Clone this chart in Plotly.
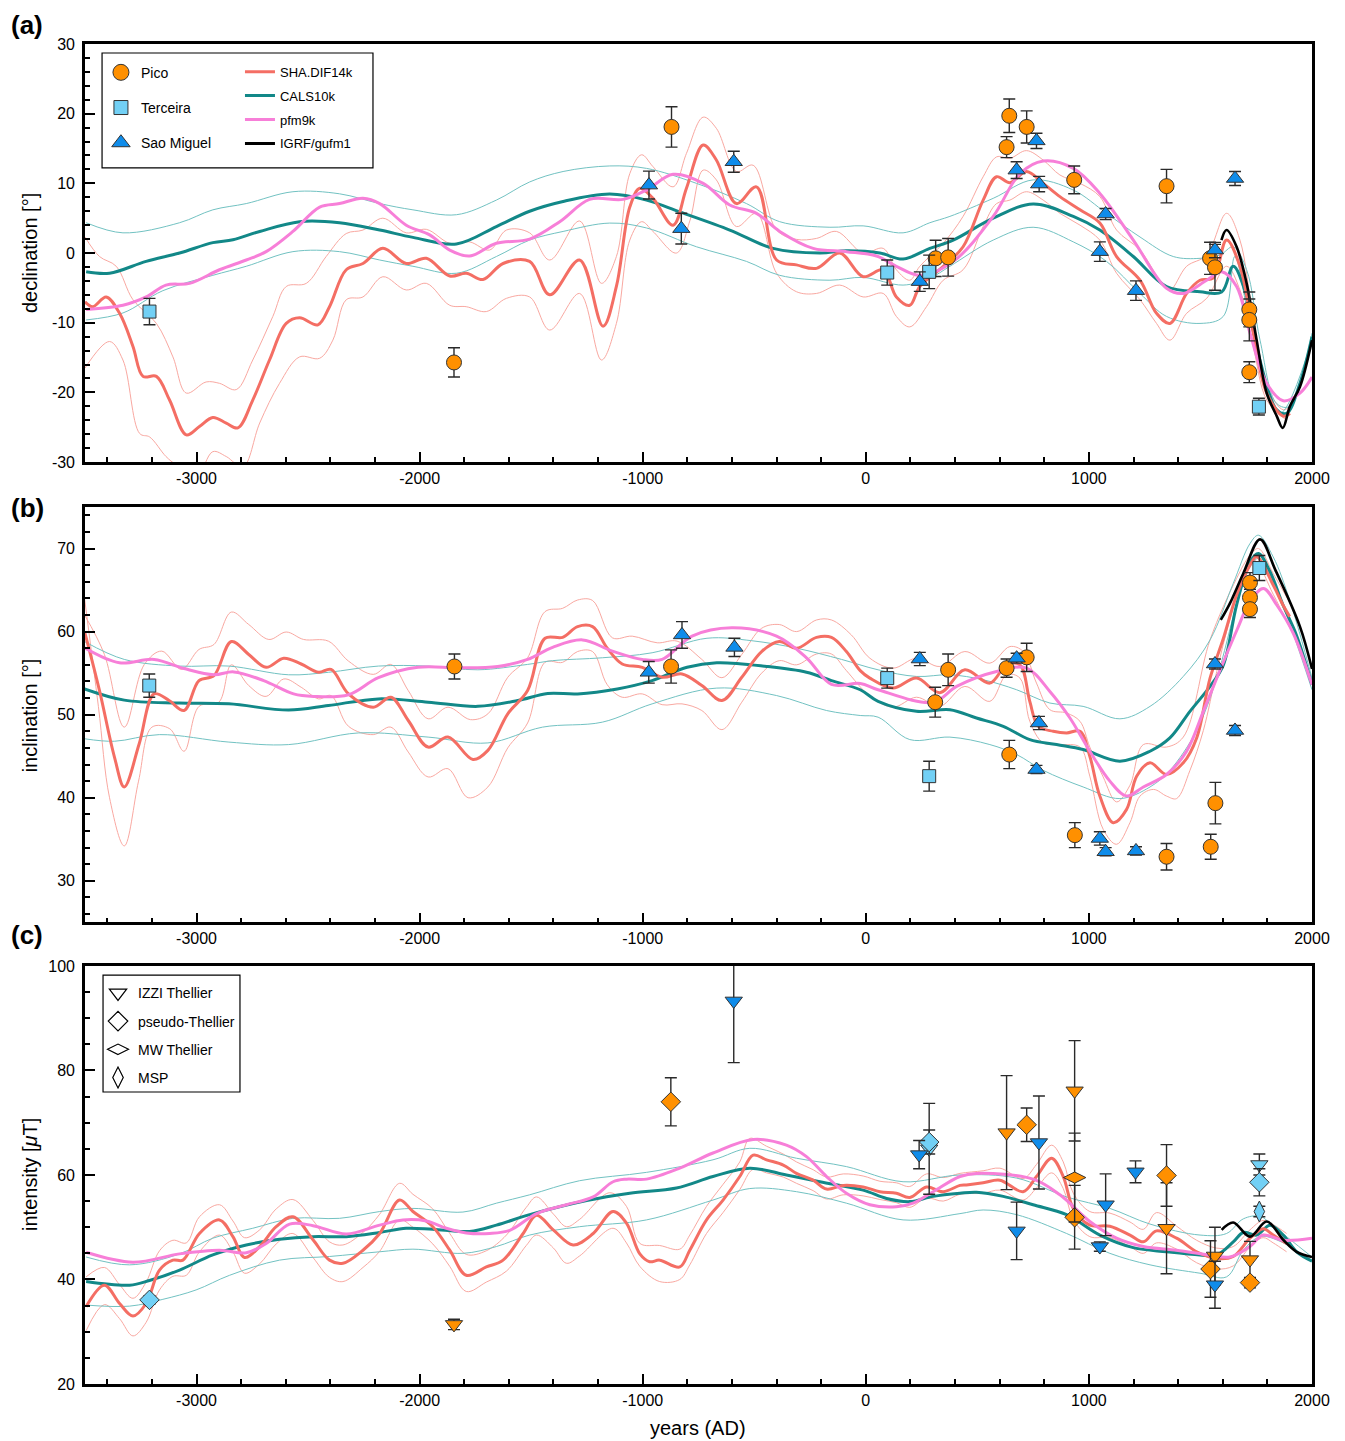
import plotly.graph_objects as go

# colours
ORANGE = '#FF9000'
LIGHTBLUE = '#72D0F5'
BLUE = '#0F8CEA'
SHA_COL = '#F46E64'
SHA_BND = '#F9A8A1'
CALS_COL = '#128888'
CALS_BND = '#72C2C2'
PFM_COL = '#F77FD8'

# ---------------- (a) declination ----------------
a_sha_x = [-3500, -3465, -3405, -3345, -3285, -3240, -3180, -3121, -3046, -2987, -2927, -2867, -2815, -2748,
           -2673, -2598, -2538, -2456, -2404, -2329, -2254, -2165, -2060, -1970, -1865, -1791, -1716, -1626,
           -1507, -1417, -1283, -1178, -1118, -1058, -1013, -954, -864, -804, -729, -670, -580, -490, -400,
           -311, -221, -117, -12, 78, 137, 197, 242, 347, 436, 526, 586, 646, 720, 795, 870, 960, 1049, 1124,
           1229, 1303, 1363, 1438, 1498, 1557, 1617, 1677, 1737, 1797, 1871, 1901]
a_sha_y = [-7.0, -7.7, -6.3, -8.65, -13.4, -17.7, -17.7, -21.1, -26.1, -24.9, -23.6, -24.4, -25.1, -21.1,
           -15.35, -10.1, -9.3, -10.3, -7.7, -2.4, -1.5, 0.67, -1.5, -0.76, -3.3, -2.9, -3.8, -1.5,
           -1.2, -6.0, -1.0, -10.5, -4.8, 6.6, 9.3, 7.85, 4.0, 9.3, 15.5, 13.35, 7.1, 9.5, -1.0,
           -1.7, -2.2, 0.0, -3.4, -2.4, -6.3, -7.5, -4.8, -1.9, 0.9, 7.6, 10.95, 10.1, 11.7, 10.0, 8.1, 6.2, 4.3, -0.5,
           -3.9, -8.65, -10.1, -5.8, -3.9, -3.6, 1.86, -1.9, -11.5, -20.1, -23.4, -23.0]
a_sha_hi_x = [-3500, -3435, -3360, -3285, -3180, -3106, -3046, -2957, -2897, -2822, -2748, -2658, -2598, -2508,
              -2419, -2329, -2254, -2165, -2060, -1970, -1865, -1776, -1686, -1611, -1507, -1417, -1283, -1185,
              -1118, -1058, -1005, -954, -864, -804, -729, -670, -580, -505, -400, -311, -221, -131, -12, 78,
              137, 197, 242, 347, 436, 526, 586, 646, 720, 795, 870, 960, 1049, 1124, 1229, 1318, 1363, 1438,
              1528, 1617, 1677, 1737, 1797, 1871, 1901]
a_sha_hi_y = [2.3, -0.5, -1.9, -6.7, -10.1, -14.9, -20.1, -18.5, -18.7, -19.6, -15.35, -9.1, -4.8, -4.35,
              -0.5, 2.8, 3.3, 5.0, 2.9, 3.4, 1.4, 1.6, 0.43, 3.3, 2.9, -1.0, 4.6, -4.35,
              -0.5, 11.4, 14.1, 12.4, 9.5, 14.3, 19.5, 17.9, 11.7, 12.6, 3.3, 1.96, 2.1, 3.1, 0.0, 0.67,
              -2.4, -3.9, -1.9, 1.4, 5.26, 10.95, 13.8, 13.6, 14.7, 13.35, 11.2, 10.0, 8.1, 3.3, 0.43, -3.9, -5.3, -1.9,
              -0.3, 5.7, 1.86, -9.6, -19.2, -22.5, -22.0]
a_sha_lo_x = [-3500, -3390, -3330, -3255, -3210, -3137, -3091, -3000, -2927, -2867, -2792, -2717, -2628, -2538,
              -2448, -2389, -2329, -2254, -2165, -2060, -1970, -1865, -1791, -1701, -1611, -1507, -1417, -1283,
              -1185, -1118, -1058, -1005, -954, -849, -789, -729, -670, -580, -490, -400, -311, -221, -117, -12,
              78, 137, 197, 272, 347, 436, 526, 586, 646, 720, 795, 870, 960, 1049, 1124, 1229, 1303, 1363, 1438,
              1528, 1617, 1677, 1737, 1797, 1886]
a_sha_lo_y = [-16.5, -12.7, -15.35, -25.9, -26.4, -29.2, -30.4, -32.0, -28.5, -29.2, -30.7, -24.4, -18.7, -14.9,
              -15.1, -12.5, -6.7, -6.3, -3.4, -5.3, -4.35, -7.5, -7.7, -8.4, -6.5, -6.3, -11.05, -5.8,
              -15.35, -10.1, 1.86, 4.5, 3.1, 0.0, 4.6, 11.9, 10.5, 3.8, 5.7, -2.9, -5.55, -5.8, -4.6, -6.3,
              -5.8, -9.1, -10.6, -7.7, -3.9, -2.4, 3.8, 7.1, 7.6, 8.8, 7.6, 5.7, 4.0, 1.86, -2.9, -6.7, -10.1, -12.5, -8.65,
              -6.5, -1.9, -5.3, -13.4, -21.1, -24.0]
a_cals_x = [-3495, -3390, -3226, -3076, -2927, -2837, -2717, -2538, -2359, -2179, -2030, -1835, -1656, -1507,
            -1357, -1148, -983, -834, -610, -416, -206, -87, 63, 167, 287, 392, 571, 750, 930, 1049, 1199, 1348,
            1498, 1595, 1647, 1707, 1767, 1842, 1886, 1946, 2000]
a_cals_y = [-2.7, -2.9, -1.2, 0.0, 1.5, 1.9, 3.1, 4.5, 4.35, 3.3, 2.25, 1.3, 3.8, 6.0,
            7.4, 8.46, 7.6, 5.9, 3.3, 0.67, 0.0, 0.33, 0.0, -0.86, 0.67, 1.86, 5.0, 7.03, 5.26, 3.3, -0.5, -4.8,
            -5.55, -5.6, -1.9, -6.2, -15.4, -22.5, -23.0, -18.7, -12.0]
a_cals_hi_x = [-3495, -3330, -3076, -2927, -2777, -2568, -2359, -2179, -2030, -1835, -1656, -1507, -1357, -1148,
               -983, -759, -535, -386, -161, -12, 167, 287, 377, 571, 750, 930, 1079, 1229, 1378, 1498, 1587,
               1647, 1707, 1767, 1842, 1901, 2000]
a_cals_hi_y = [4.35, 2.9, 4.35, 6.2, 7.1, 8.8, 8.5, 7.1, 6.2, 5.5, 7.6, 10.2, 11.7, 12.5,
               12.15, 10.0, 7.1, 4.5, 3.7, 3.9, 2.9, 4.35, 5.26, 7.85, 10.5, 9.04, 5.7, 2.3, -0.5, -0.76, -0.3,
               0.9, -2.4, -12.5, -21.6, -22.0, -11.5]
a_cals_lo_x = [-3495, -3330, -3151, -2927, -2777, -2568, -2359, -2179, -2030, -1835, -1656, -1507, -1357, -1148,
               -983, -759, -535, -386, -161, -12, 167, 287, 377, 571, 750, 930, 1079, 1229, 1348, 1498, 1602,
               1654, 1707, 1782, 1857, 2000]
a_cals_lo_y = [-9.6, -8.6, -5.4, -3.2, -1.9, 0.2, 0.2, -1.0, -1.9, -2.9, -0.5, 1.86, 3.1, 4.3,
               3.6, 0.9, -1.2, -3.2, -3.9, -3.5, -4.6, -3.6, -1.9, 1.86, 3.7, 1.6, -1.2, -5.8, -9.1, -10.1, -9.1,
               -0.5, -7.7, -17.3, -23.0, -12.5]
a_pfm_x = [-3495, -3330, -3226, -3137, -3031, -2897, -2777, -2688, -2568, -2448, -2359, -2254, -2179, -2060,
           -1955, -1865, -1776, -1656, -1507, -1372, -1238, -1088, -983, -864, -729, -610, -490, -386, -236,
           -87, 48, 137, 242, 392, 571, 691, 795, 930, 1049, 1199, 1348, 1423, 1528, 1595, 1662, 1722, 1797,
           1871, 1946, 2000]
a_pfm_y = [-8.1, -7.5, -6.3, -4.6, -4.35, -2.4, -1.0, 0.2, 3.1, 6.6, 7.1, 7.85, 7.1, 4.0,
           2.6, 0.43, -0.43, 1.4, 2.0, 4.5, 7.7, 7.7, 9.04, 11.3, 10.0, 6.9, 5.7, 3.1, 0.67,
           0.2, -0.43, -1.9, -3.2, -1.2, 5.26, 11.4, 13.2, 12.15, 8.56, 1.86, -5.06, -5.8, -3.9, -2.7, -4.8, -11.5, -18.7,
           -21.2, -20.1, -17.8]
a_igrf_x = [1594, 1617, 1662, 1707, 1752, 1797, 1842, 1869, 1901, 1946, 2000]
a_igrf_y = [1.86, 3.3, 0.9, -4.35, -12.5, -20.1, -23.4, -25.1, -22.0, -19.2, -12.5]

a_pico_x = [-1846, -871, 631, 643, 721, 934, 1348, 313, 369, 1543, 1565, 1719, 1719, 1719]
a_pico_y = [-15.7, 18.1, 15.2, 19.7, 18.1, 10.5, 9.6, -0.76, -0.62, -0.76, -2.05, -8.1, -9.6, -17.1]
a_pico_e = [2.1, 2.9, 1.5, 2.4, 2.3, 2.0, 2.4, 2.6, 2.7, 2.3, 3.3, 2.5, 3.0, 1.5]
a_terc_x = [-3211, 96, 284, 1762]
a_terc_y = [-8.4, -2.8, -2.7, -22.05]
a_terc_e = [1.9, 1.8, 2.4, 1.2]
a_sao_x = [-972, -827, -592, 242, 676, 765, 777, 1075, 1049, 1211, 1565, 1655]
a_sao_y = [9.75, 3.5, 13.1, -4.1, 11.9, 16.1, 9.9, 5.6, 0.2, -5.4, 0.43, 10.7]
a_sao_e = [2.0, 2.2, 1.5, 1.4, 1.2, 1.1, 1.1, 0.8, 1.4, 1.4, 1.1, 1.0]

# ---------------- (b) inclination ----------------
b_sha_x = [-3502, -3435, -3368, -3324, -3257, -3190, -3123, -3056, -2989, -2922, -2844, -2766, -2688, -2609,
           -2531, -2453, -2397, -2319, -2208, -2129, -2051, -1962, -1873, -1761, -1694, -1605, -1516, -1438,
           -1359, -1292, -1225, -1159, -1092, -1002, -913, -824, -735, -645, -556, -467, -388, -310, -221,
           -154, -87, -25, 18, 122, 227, 332, 444, 556, 631, 691, 735, 773, 840, 900, 960, 1004, 1049, 1109,
           1169, 1214, 1274, 1348, 1423, 1483, 1543, 1603, 1662, 1722, 1752, 1826, 1870, 1900]
b_sha_y = [60.0, 52.9, 44.9, 41.3, 46.5, 52.5, 51.7, 50.5, 54.1, 54.7, 58.8, 57.25, 55.7, 56.8,
           56.1, 55.1, 55.45, 52.5, 50.9, 52.1, 49.3, 46.1, 47.3, 44.6, 45.7, 50.1, 52.9, 59.2,
           59.3, 60.6, 60.6, 58.0, 56.1, 55.7, 54.5, 54.9, 53.5, 51.7, 54.5, 57.6, 58.8, 58.0, 59.3,
           59.3, 57.6, 55.3, 54.4, 53.2, 54.4, 52.65, 55.4, 53.8, 56.0, 56.0, 51.6, 48.6, 48.0, 47.8, 48.0, 45.0, 40.2, 37.0,
           38.6, 42.6, 44.2, 42.8, 44.2, 47.2, 54.4, 59.2, 64.4, 68.0, 69.0, 65.6, 63.2, 61.8]
b_sha_hi_x = [-3502, -3413, -3324, -3234, -3156, -3067, -2989, -2922, -2844, -2766, -2676, -2598, -2520, -2409,
              -2319, -2208, -2129, -2051, -1962, -1873, -1772, -1694, -1605, -1516, -1438, -1359, -1292, -1225,
              -1136, -1047, -935, -846, -735, -645, -556, -467, -388, -310, -221, -154, -65, 18, 122, 227, 332,
              444, 556, 646, 706, 765, 825, 900, 960, 1004, 1064, 1124, 1184, 1244, 1348, 1423, 1543, 1662, 1722,
              1760, 1826, 1900]
b_sha_hi_y = [62.0, 57.25, 48.5, 56.05, 57.65, 55.45, 57.85, 58.45, 62.35, 60.85, 59.05, 59.95, 59.05, 58.85,
              56.45, 54.85, 56.05, 52.9, 49.5, 50.9, 49.4, 50.1, 54.5, 56.85, 62.4, 62.8, 63.8, 63.75,
              59.25, 59.45, 58.65, 58.85, 56.65, 54.45, 57.25, 60.4, 60.85, 60.0, 61.4, 61.4, 59.6, 56.8, 55.6, 56.8, 55.8,
              57.6, 56.2, 58.2, 57.6, 53.8, 50.6, 50.2, 49.2, 46.1, 42.5, 39.5, 41.5, 46.4, 46.1, 47.3, 59.0, 66.4, 69.2,
              70.0, 67.0, 63.5]
b_sha_lo_x = [-3502, -3440, -3390, -3324, -3260, -3200, -3120, -3056, -2989, -2900, -2844, -2766, -2688, -2609,
              -2531, -2453, -2397, -2319, -2208, -2129, -2051, -1962, -1873, -1783, -1694, -1605, -1516, -1438,
              -1359, -1292, -1225, -1159, -1092, -1002, -913, -824, -735, -645, -556, -467, -388, -310, -221,
              -154, -87, 18, 122, 227, 332, 444, 556, 631, 691, 735, 795, 870, 960, 1004, 1064, 1124, 1184, 1229,
              1290, 1348, 1393, 1453, 1513, 1573, 1633, 1692, 1740, 1826, 1900]
b_sha_lo_y = [64.0, 51.0, 40.0, 34.2, 42.0, 48.5, 48.3, 45.6, 51.0, 51.5, 56.0, 53.5, 52.2, 54.3,
              53.3, 51.9, 52.3, 48.6, 47.6, 48.5, 45.5, 42.5, 43.5, 40.0, 41.3, 46.0, 49.0, 56.3,
              56.3, 57.6, 57.6, 53.6, 52.1, 52.5, 51.2, 51.3, 50.5, 48.2, 51.5, 55.0, 56.5, 56.0, 57.3,
              57.3, 55.3, 52.25, 50.9, 52.1, 51.0, 53.4, 51.6, 54.8, 54.4, 49.2, 46.6, 46.4, 46.1, 42.6, 36.2, 34.4, 37.0, 40.2,
              41.0, 40.2, 39.9, 43.3, 48.1, 55.2, 61.6, 66.4, 68.6, 64.5, 60.5]
b_cals_x = [-3502, -3324, -3078, -2855, -2587, -2409, -2185, -1962, -1739, -1560, -1426, -1292, -1114, -958,
            -801, -668, -444, -266, -154, -25, 55, 227, 377, 496, 616, 735, 855, 974, 1139, 1274, 1363, 1453,
            1543, 1603, 1662, 1722, 1760, 1812, 1870, 1930, 2000]
b_cals_y = [53.1, 51.75, 51.4, 51.3, 50.55, 51.1, 51.9, 51.5, 51.0, 51.7, 52.55, 52.5, 53.1, 54.1,
            55.7, 56.25, 55.8, 55.1, 54.1, 53.0, 51.6, 50.4, 50.6, 49.6, 48.6, 47.0, 46.4, 45.8, 44.4, 45.6, 47.2, 50.4,
            53.4, 56.0, 63.2, 68.4, 69.4, 67.2, 63.2, 59.6, 53.6]
b_cals_hi_x = [-3502, -3324, -3078, -2855, -2587, -2409, -2185, -1962, -1739, -1516, -1404, -1181, -958, -712,
               -511, -310, -109, 55, 227, 377, 526, 676, 825, 974, 1139, 1274, 1423, 1543, 1647, 1722, 1760,
               1826, 1901, 2000]
b_cals_hi_y = [58.8, 56.65, 55.85, 55.85, 54.8, 55.1, 55.85, 55.85, 55.4, 56.05, 56.5, 56.85, 57.45, 59.2,
               58.9, 58.0, 56.65, 55.4, 54.6, 54.8, 54.2, 53.0, 51.4, 51.0, 49.5, 51.0, 54.6, 59.0, 65.8, 70.6, 71.6,
               69.0, 63.7, 54.4]
b_cals_lo_x = [-3502, -3368, -3167, -2855, -2587, -2275, -1962, -1694, -1449, -1181, -958, -668, -400, -176,
               -25, 55, 197, 377, 556, 676, 795, 974, 1139, 1274, 1363, 1483, 1573, 1662, 1722, 1760, 1826, 2000]
b_cals_lo_y = [47.1, 46.8, 47.6, 46.7, 46.4, 47.8, 47.3, 46.6, 48.5, 49.1, 51.3, 53.2, 52.3, 50.5,
               49.9, 49.7, 47.0, 47.3, 46.4, 45.2, 43.3, 41.3, 39.9, 41.3, 43.3, 48.1, 54.4, 63.2, 67.8, 68.8, 66.0, 53.0]
b_pfm_x = [-3502, -3346, -3190, -3056, -2922, -2833, -2699, -2565, -2475, -2319, -2185, -2007, -1828, -1650,
           -1516, -1404, -1270, -1136, -1002, -913, -779, -601, -400, -266, -154, -25, 55, 302, 407, 586, 721,
           825, 915, 1004, 1094, 1169, 1244, 1348, 1438, 1513, 1573, 1662, 1722, 1782, 1842, 1916, 2000]
b_pfm_y = [58.05, 56.25, 56.65, 55.55, 54.8, 55.15, 54.1, 52.5, 52.2, 52.4, 54.45, 55.7, 55.65, 55.8,
           56.65, 58.1, 59.0, 57.65, 56.65, 56.65, 59.45, 60.45, 59.45, 56.85, 53.65, 53.75, 53.0, 51.5, 53.4, 55.2, 55.6,
           52.8, 49.6, 45.6, 42.0, 40.2, 41.3, 42.8, 45.6, 50.4, 54.4, 60.1, 63.6, 65.2, 63.2, 59.8, 53.6]
b_igrf_x = [1591, 1632, 1692, 1767, 1836, 1946, 2000]
b_igrf_y = [61.4, 63.4, 67.0, 71.1, 67.4, 60.6, 55.5]

b_pico_x = [-1844, -873, 369, 311, 631, 721, 643, 937, 1348, 1546, 1567, 1722, 1722, 1722]
b_pico_y = [55.8, 55.8, 55.4, 51.5, 55.6, 56.9, 45.2, 35.5, 32.9, 34.1, 39.35, 65.9, 64.1, 62.7]
b_pico_e = [1.5, 2.0, 1.9, 1.8, 1.1, 1.7, 1.7, 1.5, 1.6, 1.5, 2.5, 1.2, 1.0, 1.0]
b_terc_x = [-3212, 96, 284, 1764]
b_terc_y = [53.5, 54.4, 42.6, 67.65]
b_terc_e = [1.4, 1.2, 1.8, 1.5]
b_sao_x = [-973, -824, -589, 242, 676, 776, 765, 1049, 1075, 1211, 1565, 1655]
b_sao_y = [55.1, 59.6, 58.1, 56.7, 56.8, 49.0, 43.4, 35.1, 33.5, 33.6, 56.1, 48.1]
b_sao_e = [1.3, 1.6, 1.1, 0.8, 0.6, 0.8, 0.5, 0.8, 0.5, 0.5, 0.6, 0.6]

# ---------------- (c) intensity ----------------
c_sha_x = [-3495, -3413, -3345, -3285, -3226, -3166, -3106, -3061, -2987, -2897, -2837, -2785, -2717, -2643,
           -2568, -2478, -2404, -2344, -2254, -2179, -2090, -2030, -1941, -1865, -1791, -1701, -1626, -1536,
           -1476, -1401, -1312, -1222, -1133, -1073, -1013, -969, -924, -834, -789, -714, -640, -565, -505,
           -445, -370, -311, -236, -176, -101, -12, 63, 137, 197, 272, 347, 422, 451, 526, 601, 705, 765, 833,
           885, 930, 1004, 1094, 1184, 1244, 1303, 1393, 1483, 1573, 1647, 1722, 1781, 1826, 1886]
c_sha_y = [34.8, 38.9, 35.4, 33.0, 35.4, 41.8, 43.7, 43.7, 48.8, 51.4, 48.2, 44.2, 46.3, 50.1,
           52.0, 47.6, 43.7, 43.1, 45.6, 48.8, 55.2, 53.0, 50.1, 45.6, 40.8, 42.4, 43.7, 48.8,
           52.3, 49.5, 46.6, 48.8, 53.0, 50.8, 44.9, 43.4, 43.7, 42.4, 45.6, 51.4, 55.2, 59.7, 63.8,
           62.9, 61.9, 60.3, 59.0, 57.3, 58.0, 57.7, 56.8, 56.5, 55.7, 57.7, 56.8, 58.0, 58.1, 58.5, 59.0, 56.8, 59.7, 63.2,
           59.7, 53.6, 50.4, 50.2, 48.5, 47.2, 49.3, 47.9, 45.3, 44.0, 44.4, 47.9, 49.7, 48.5, 46.9]
c_sha_hi_x = [-3495, -3413, -3345, -3285, -3226, -3166, -3106, -3046, -2987, -2897, -2837, -2785, -2717, -2643,
              -2568, -2478, -2404, -2344, -2254, -2179, -2090, -2030, -1941, -1865, -1791, -1701, -1611, -1522,
              -1476, -1400, -1342, -1283, -1148, -1073, -1013, -924, -834, -789, -714, -640, -565, -520, -445,
              -370, -311, -236, -176, -101, -12, 63, 137, 197, 272, 347, 422, 526, 601, 705, 765, 833, 885, 930,
              1004, 1094, 1184, 1244, 1303, 1393, 1483, 1573, 1647, 1722, 1781, 1826, 1886]
c_sha_hi_y = [40.5, 42.3, 39.0, 36.4, 39.5, 45.5, 47.5, 47.0, 52.0, 54.3, 51.2, 48.0, 49.5, 53.5,
              55.3, 51.3, 47.2, 46.6, 49.0, 52.5, 58.4, 56.3, 53.5, 48.8, 44.8, 45.5, 48.5, 53.8,
              55.8, 52.5, 50.1, 51.5, 56.6, 54.0, 46.9, 46.5, 45.8, 48.5, 54.0, 58.2, 62.5, 67.0, 65.5,
              64.0, 62.5, 61.0, 59.6, 60.2, 59.8, 58.8, 58.5, 57.8, 60.2, 59.5, 60.3, 60.8, 61.3, 59.3, 62.0, 65.7, 62.5, 56.5,
              53.0, 52.7, 51.0, 49.6, 52.8, 50.2, 47.5, 46.0, 46.3, 49.5, 51.3, 50.5, 48.8]
c_sha_lo_x = [-3495, -3413, -3345, -3285, -3226, -3166, -3106, -3046, -2987, -2897, -2837, -2785, -2717, -2643,
              -2568, -2478, -2404, -2344, -2254, -2179, -2090, -2030, -1941, -1865, -1791, -1701, -1611, -1522,
              -1476, -1400, -1342, -1283, -1133, -1073, -1013, -924, -834, -789, -714, -640, -565, -505, -445,
              -370, -311, -236, -176, -101, -12, 63, 137, 197, 272, 347, 422, 526, 601, 705, 765, 833, 885, 930,
              1004, 1094, 1184, 1244, 1303, 1393, 1483, 1573, 1647, 1722, 1781, 1826, 1886]
c_sha_lo_y = [30.2, 35.2, 32.5, 29.2, 31.8, 38.0, 40.6, 40.8, 45.3, 48.5, 45.3, 41.2, 43.0, 46.8,
              48.8, 44.2, 40.4, 39.6, 42.3, 45.4, 51.4, 50.0, 46.8, 42.5, 37.7, 39.5, 41.6, 46.5,
              48.5, 46.0, 43.1, 44.5, 49.8, 47.0, 42.5, 39.6, 40.0, 42.8, 48.8, 52.8, 57.2, 61.1, 60.4,
              59.6, 58.4, 57.0, 55.4, 56.2, 56.0, 55.3, 54.7, 53.8, 55.6, 55.0, 56.3, 56.5, 57.1, 55.2, 57.5, 60.4, 57.4, 51.5,
              48.2, 48.0, 46.3, 45.0, 47.0, 45.8, 43.2, 42.0, 42.6, 46.2, 48.0, 47.0, 45.3]
c_cals_x = [-3495, -3300, -3211, -3076, -2927, -2777, -2628, -2478, -2329, -2179, -2060, -1941, -1776, -1656,
            -1507, -1251, -1058, -849, -685, -520, -356, -206, -12, 93, 197, 302, 422, 496, 616, 750, 900, 1049,
            1199, 1348, 1498, 1573, 1647, 1692, 1752, 1812, 1871, 1931, 2000]
c_cals_y = [39.6, 38.9, 39.8, 41.8, 44.7, 46.6, 47.7, 48.2, 48.2, 49.0, 49.8, 49.6, 49.2, 50.4,
            52.4, 55.1, 56.5, 57.5, 59.7, 61.3, 60.0, 58.7, 57.1, 55.5, 54.9, 55.9, 56.5, 56.7, 55.9, 54.3, 52.4, 48.5,
            46.1, 45.3, 44.7, 44.7, 47.2, 49.0, 48.5, 50.4, 48.5, 45.3, 43.5]
c_cals_hi_x = [-3495, -3300, -3076, -2927, -2748, -2568, -2359, -2179, -2030, -1806, -1656, -1507, -1283, -983,
               -685, -520, -311, -87, 167, 422, 676, 900, 1094, 1274, 1498, 1617, 1692, 1767, 1826, 2000]
c_cals_hi_y = [44.3, 42.8, 44.9, 47.9, 49.8, 51.7, 51.7, 53.0, 53.6, 52.9, 54.6, 56.2, 58.9, 60.5,
               62.9, 65.1, 63.2, 61.6, 58.7, 60.0, 59.4, 55.8, 53.6, 50.6, 48.5, 48.8, 51.6, 52.1, 50.2, 44.3]
c_cals_lo_x = [-3495, -3300, -3151, -3002, -2852, -2628, -2404, -2179, -2030, -1806, -1656, -1507, -1283, -983,
               -685, -520, -311, -87, 167, 422, 526, 676, 900, 1094, 1274, 1498, 1617, 1692, 1767, 1841, 2000]
c_cals_lo_y = [35.1, 34.9, 36.2, 38.0, 40.8, 43.7, 44.4, 45.3, 45.8, 45.0, 46.3, 48.5, 50.1, 51.4,
               55.2, 57.4, 56.8, 54.6, 51.4, 52.6, 53.3, 52.4, 48.8, 45.0, 42.8, 41.2, 40.5, 45.6, 48.2, 47.6, 43.7]
c_pfm_x = [-3495, -3285, -3076, -2897, -2777, -2688, -2583, -2478, -2329, -2179, -2075, -1970, -1880, -1791,
           -1686, -1596, -1476, -1342, -1222, -1133, -1073, -983, -834, -685, -505, -356, -266, -176, -87, 18,
           137, 212, 302, 422, 496, 750, 870, 1004, 1124, 1244, 1393, 1543, 1632, 1722, 1781, 1871, 2000]
c_pfm_y = [45.2, 43.3, 44.9, 45.6, 45.1, 46.9, 50.6, 50.3, 48.7, 50.4, 51.4, 51.2, 49.8, 48.9,
           48.8, 49.4, 52.6, 54.3, 55.8, 58.7, 59.2, 59.2, 61.3, 64.2, 66.8, 65.7, 63.5, 59.7, 56.5, 54.3,
           53.9, 54.6, 56.8, 59.7, 60.3, 59.2, 56.2, 51.1, 47.9, 46.3, 45.6, 44.7, 44.3, 46.3, 48.5, 47.5, 47.9]
c_igrf_x = [1595, 1647, 1722, 1797, 1871, 1931, 2000]
c_igrf_y = [49.5, 50.9, 48.2, 51.1, 47.6, 45.3, 44.3]

# Pico
c_pico_izzi_x = [-1846, 631, 936, 1348, 1565, 1722]
c_pico_izzi_y = [31.4, 68.1, 76.1, 49.8, 44.5, 43.8]
c_pico_izzi_e = [1.0, 10.9, 9.6, 8.7, 5.5, 3.5]
c_pico_pt_x = [-874, 721, 936, 1348, 1545, 1722]
c_pico_pt_y = [74.0, 69.6, 51.9, 59.9, 42.0, 39.4]
c_pico_pt_e = [4.6, 3.2, 6.1, 5.9, 5.4, 1.0]
c_pico_mw_x = [936]
c_pico_mw_y = [59.5]
c_pico_mw_e = [8.5]
# Terceira
c_terc_izzi_x = [284, 1764]
c_terc_izzi_y = [65.0, 62.0]
c_terc_izzi_e = [8.7, 2.0]
c_terc_pt_x = [-3211, 284, 1764]
c_terc_pt_y = [36.1, 66.3, 58.6]
c_terc_pt_e = [0.8, 2.3, 2.6]
c_terc_msp_x = [1764]
c_terc_msp_y = [53.0]
c_terc_msp_e = [1.0]
# Sao Miguel
c_sao_izzi_x = [-592, 239, 676, 776, 1049, 1075, 1209, 1565]
c_sao_izzi_y = [93.3, 63.9, 49.3, 66.2, 46.3, 54.3, 60.6, 39.0]
c_sao_izzi_e = [11.8, 2.7, 5.5, 8.9, 0.9, 5.9, 2.1, 4.5]

x_ticks = [-3000, -2000, -1000, 0, 1000, 2000]

fig = go.Figure()


def curve(x, y, color, width, ax):
    fig.add_trace(go.Scatter(x=x, y=y, mode='lines', line=dict(color=color, width=width, shape='spline'),
                             xaxis='x' + ax, yaxis='y' + ax, hoverinfo='skip', showlegend=False))


def points(x, y, e, color, symbol, size, ax):
    fig.add_trace(go.Scatter(x=x, y=y, mode='markers',
                             error_y=dict(type='data', array=e, visible=True, color='#2a2a2a', thickness=1.4, width=6),
                             marker=dict(color=color, symbol=symbol, size=size, line=dict(color='#333333', width=1)),
                             xaxis='x' + ax, yaxis='y' + ax, showlegend=False))


def models(sha, sha_hi, sha_lo, cals, cals_hi, cals_lo, pfm, igrf, ax):
    for bx, by in (sha_hi, sha_lo):
        curve(bx, by, SHA_BND, 1, ax)
    for bx, by in (cals_hi, cals_lo):
        curve(bx, by, CALS_BND, 1, ax)
    curve(cals[0], cals[1], CALS_COL, 3, ax)
    curve(sha[0], sha[1], SHA_COL, 3, ax)
    curve(pfm[0], pfm[1], PFM_COL, 3, ax)
    curve(igrf[0], igrf[1], 'black', 2.6, ax)


# panel (a)
models((a_sha_x, a_sha_y), (a_sha_hi_x, a_sha_hi_y), (a_sha_lo_x, a_sha_lo_y),
       (a_cals_x, a_cals_y), (a_cals_hi_x, a_cals_hi_y), (a_cals_lo_x, a_cals_lo_y),
       (a_pfm_x, a_pfm_y), (a_igrf_x, a_igrf_y), '')
points(a_pico_x, a_pico_y, a_pico_e, ORANGE, 'circle', 15, '')
points(a_terc_x, a_terc_y, a_terc_e, LIGHTBLUE, 'square', 13, '')
points(a_sao_x, a_sao_y, a_sao_e, BLUE, 'triangle-up', 15, '')

# panel (b)
models((b_sha_x, b_sha_y), (b_sha_hi_x, b_sha_hi_y), (b_sha_lo_x, b_sha_lo_y),
       (b_cals_x, b_cals_y), (b_cals_hi_x, b_cals_hi_y), (b_cals_lo_x, b_cals_lo_y),
       (b_pfm_x, b_pfm_y), (b_igrf_x, b_igrf_y), '2')
points(b_pico_x, b_pico_y, b_pico_e, ORANGE, 'circle', 15, '2')
points(b_terc_x, b_terc_y, b_terc_e, LIGHTBLUE, 'square', 13, '2')
points(b_sao_x, b_sao_y, b_sao_e, BLUE, 'triangle-up', 15, '2')

# panel (c)
models((c_sha_x, c_sha_y), (c_sha_hi_x, c_sha_hi_y), (c_sha_lo_x, c_sha_lo_y),
       (c_cals_x, c_cals_y), (c_cals_hi_x, c_cals_hi_y), (c_cals_lo_x, c_cals_lo_y),
       (c_pfm_x, c_pfm_y), (c_igrf_x, c_igrf_y), '3')
points(c_pico_izzi_x, c_pico_izzi_y, c_pico_izzi_e, ORANGE, 'triangle-down', 15, '3')
points(c_pico_pt_x, c_pico_pt_y, c_pico_pt_e, ORANGE, 'diamond', 15, '3')
points(c_pico_mw_x, c_pico_mw_y, c_pico_mw_e, ORANGE, 'diamond-wide', 16, '3')
points(c_terc_izzi_x, c_terc_izzi_y, c_terc_izzi_e, LIGHTBLUE, 'triangle-down', 15, '3')
points(c_terc_pt_x, c_terc_pt_y, c_terc_pt_e, LIGHTBLUE, 'diamond', 15, '3')
points(c_terc_msp_x, c_terc_msp_y, c_terc_msp_e, LIGHTBLUE, 'diamond-tall', 15, '3')
points(c_sao_izzi_x, c_sao_izzi_y, c_sao_izzi_e, BLUE, 'triangle-down', 15, '3')

# legend entries (dummy traces)
for i, (nm, col, sym, sz) in enumerate([('Pico', ORANGE, 'circle', 16), ('Terceira', LIGHTBLUE, 'square', 14),
                                         ('Sao Miguel', BLUE, 'triangle-up', 16)]):
    fig.add_trace(go.Scatter(x=[None], y=[None], mode='markers', name=nm, legendgroup='s%d' % i,
                             marker=dict(color=col, symbol=sym, size=sz, line=dict(color='#333333', width=1)),
                             legend='legend'))
for i, (nm, col) in enumerate([('SHA.DIF14k', SHA_COL), ('CALS10k', CALS_COL), ('pfm9k', PFM_COL),
                               ('IGRF/gufm1', 'black')]):
    fig.add_trace(go.Scatter(x=[None], y=[None], mode='lines', name=nm, legendgroup='m%d' % i,
                             line=dict(color=col, width=3), legend='legend2'))
for i, (nm, sym) in enumerate([('IZZI Thellier', 'triangle-down-open'), ('pseudo-Thellier', 'diamond-open'),
                               ('MW Thellier', 'diamond-wide-open'), ('MSP', 'diamond-tall-open')]):
    fig.add_trace(go.Scatter(x=[None], y=[None], mode='markers', name=nm, legendgroup='p%d' % i,
                             marker=dict(color='black', symbol=sym, size=15, line=dict(width=1.2)),
                             xaxis='x3', yaxis='y3', legend='legend3'))

frame = dict(showline=True, linecolor='black', linewidth=2.6, mirror=True, ticks='inside', ticklen=10,
             tickwidth=2, tickcolor='black', showgrid=False, zeroline=False,
             tickfont=dict(size=16, color='black'))
xminor = dict(dtick=200, tick0=0, ticks='inside', ticklen=5, tickwidth=1.5, tickcolor='black', showgrid=False)


def xax(anchor):
    return dict(frame, range=[-3500, 2000], tickmode='array', tickvals=x_ticks,
                ticktext=[str(v) for v in x_ticks], minor=xminor, anchor=anchor, domain=[0, 1])


def yax(rng, vals, mdt, dom, anchor):
    return dict(frame, range=rng, tickmode='array', tickvals=vals, ticktext=[str(v) for v in vals],
                minor=dict(dtick=mdt, tick0=0, ticks='inside', ticklen=5, tickwidth=1.5, tickcolor='black',
                           showgrid=False),
                domain=dom, anchor=anchor, ticklabelstandoff=4)


def label(text, x, y, size, angle=0):
    return dict(text=text, x=x, y=y, xref='paper', yref='paper', showarrow=False, xanchor='center',
                yanchor='middle', textangle=angle, font=dict(size=size))


leg_font = dict(family='Liberation Sans, Arial, sans-serif', size=14, color='black')
# page body has an 8 px margin, so the figure is 8 px smaller than the window
fig.update_layout(
    width=1337, height=1433,
    margin=dict(l=77, r=33, t=36, b=57),
    paper_bgcolor='white', plot_bgcolor='white',
    font=dict(family='Liberation Sans, Arial, sans-serif', color='black'),
    xaxis=xax('y'), xaxis2=xax('y2'), xaxis3=xax('y3'),
    yaxis=yax([-30, 30], [-30, -20, -10, 0, 10, 20, 30], 2, [0.688, 1.0], 'x'),
    yaxis2=yax([25, 75], [30, 40, 50, 60, 70], 2, [0.3445, 0.6545], 'x2'),
    yaxis3=yax([20, 100], [20, 40, 60, 80, 100], 5, [0.0, 0.312], 'x3'),
    legend=dict(x=0.013, y=0.9905, xanchor='left', yanchor='top', bgcolor='rgba(0,0,0,0)',
                font=leg_font, tracegroupgap=14),
    legend2=dict(x=0.1263, y=0.9905, xanchor='left', yanchor='top', bgcolor='rgba(0,0,0,0)',
                 font=dict(leg_font, size=13), tracegroupgap=4),
    legend3=dict(x=0.0106, y=0.3035, xanchor='left', yanchor='top', bgcolor='rgba(0,0,0,0)',
                 font=leg_font, tracegroupgap=7),
    shapes=[
        dict(type='rect', xref='paper', yref='paper', x0=0.0139, x1=0.2347, y0=0.9075, y1=0.9933,
             line=dict(color='black', width=1.2)),
        dict(type='rect', xref='paper', yref='paper', x0=0.0147, x1=0.1263, y0=0.2179, y1=0.3052,
             line=dict(color='black', width=1.2)),
    ],
    annotations=[
        label('<b>(a)</b>', -0.047, 1.0142, 26),
        label('<b>(b)</b>', -0.047, 0.6537, 26),
        label('<b>(c)</b>', -0.047, 0.3351, 26),
        label('declination [°]', -0.0448, 0.844, 20, -90),
        label('inclination [°]', -0.0448, 0.499, 20, -90),
        label('intensity [<i>μ</i>T]', -0.0448, 0.156, 20, -90),
        label('years (AD)', 0.4996, -0.0328, 20),
    ],
)

fig.write_html('out.html')
